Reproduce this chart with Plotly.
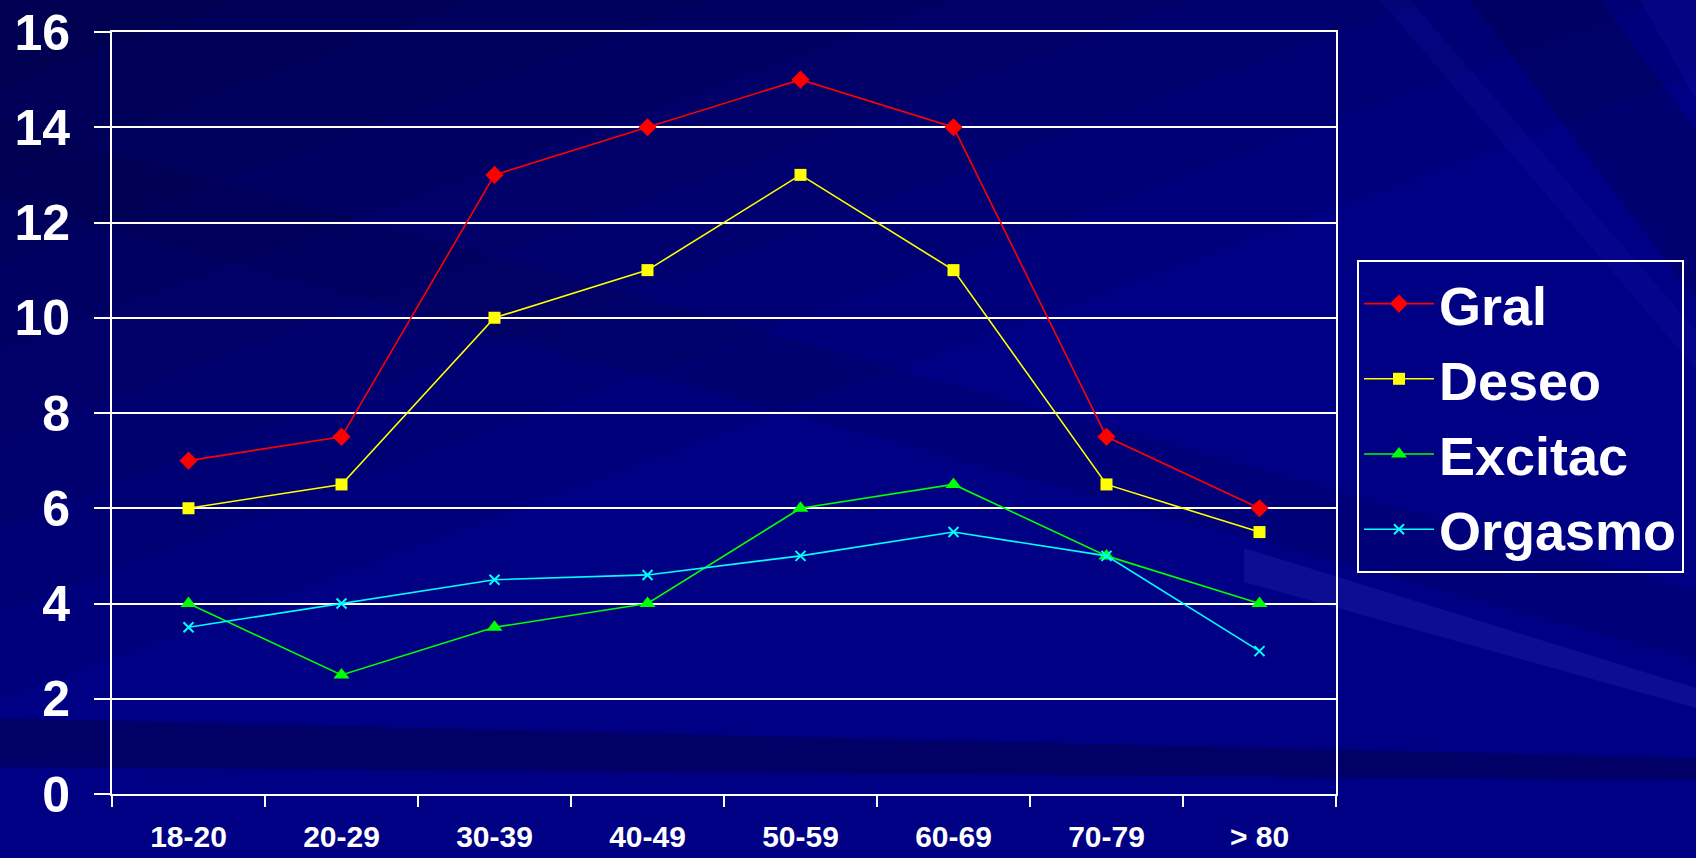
import plotly.graph_objects as go

categories = ["18-20", "20-29", "30-39", "40-49", "50-59", "60-69", "70-79", "> 80"]
gral = [7, 7.5, 13, 14, 15, 14, 7.5, 6]
deseo = [6, 6.5, 10, 11, 13, 11, 6.5, 5.5]
excitac = [4, 2.5, 3.5, 4, 6, 6.5, 5, 4]
orgasmo = [3.5, 4, 4.5, 4.6, 5, 5.5, 5, 3]
y_ticks = [0, 2, 4, 6, 8, 10, 12, 14, 16]

W, H = 1696, 858
L, R, T, B = 112, 360, 32, 64
PW, PH = W - L - R, H - T - B

def P(px, py):
    return (px - L) / PW, (H - B - py) / PH

def poly(pts, color):
    d = "M " + " L ".join(f"{P(x, y)[0]:.4f},{P(x, y)[1]:.4f}" for x, y in pts) + " Z"
    return dict(type="path", xref="paper", yref="paper", path=d,
                fillcolor=color, line=dict(width=0), layer="below")

shapes = []
# soft darkening towards the top-left corner
for i in range(8):
    k = 1 - i / 8
    shapes.append(poly([(0, 0), (1900 * k, 0), (0, 700 * k)], "rgba(0,0,30,0.07)"))
shapes += [
    poly([(0, 120), (0, 200), (1696, 660), (1696, 590)], "rgba(0,0,40,0.12)"),
    poly([(0, 718), (1696, 758), (1696, 780), (0, 767)], "rgba(0,0,50,0.35)"),
    poly([(1244, 548), (1696, 688), (1696, 708), (1244, 582)], "rgba(60,60,190,0.22)"),
    poly([(1470, 0), (1600, 0), (1696, 130), (1696, 300)], "rgba(0,0,40,0.22)"),
    poly([(1380, 0), (1410, 0), (1696, 330), (1696, 370)], "rgba(30,30,190,0.14)"),
    poly([(1640, 0), (1696, 0), (1696, 100)], "rgba(30,30,190,0.14)"),
]

fig = go.Figure()
series = [
    ("Gral", gral, "#ff0000", "diamond", 14),
    ("Deseo", deseo, "#ffff00", "square", 12),
    ("Excitac", excitac, "#00ff00", "triangle-up", 14),
    ("Orgasmo", orgasmo, "#00ffff", "x-thin", 10),
]
for name, vals, col, sym, sz in series:
    fig.add_trace(go.Scatter(
        x=categories, y=vals, name=name, mode="lines+markers",
        legendgroup=name,
        line=dict(color=col, width=1.6),
        marker=dict(symbol=sym, size=sz, color=col,
                    line=dict(color=col, width=2 if sym == "x-thin" else 0)),
    ))

font_bold = dict(family="Liberation Sans, Arial, sans-serif", color="white", weight="bold")

fig.update_layout(
    width=W, height=H,
    margin=dict(l=L, r=R, t=T, b=B),
    paper_bgcolor="#000084",
    plot_bgcolor="rgba(0,0,0,0)",
    shapes=shapes,
    showlegend=True,
    legend=dict(
        x=P(1357, 0)[0], y=P(0, 260)[1], xanchor="left", yanchor="top",
        bgcolor="rgba(0,0,0,0)", bordercolor="white", borderwidth=2,
        font=dict(size=54, **font_bold),
        itemwidth=70, tracegroupgap=2,
    ),
    xaxis=dict(
        type="category", tickson="boundaries", showgrid=False,
        showline=True, linecolor="white", linewidth=2, mirror=True,
        ticks="outside", ticklen=11, tickcolor="white", tickwidth=2,
        tickfont=dict(size=30, **font_bold),
        range=[-0.5, 7.5], automargin=False, ticklabelstandoff=15,
    ),
    yaxis=dict(
        range=[0, 16], tickvals=y_ticks, showgrid=True,
        gridcolor="white", gridwidth=2,
        showline=True, linecolor="white", linewidth=2, mirror=True,
        ticks="outside", ticklen=16, tickcolor="white", tickwidth=2,
        tickfont=dict(size=50, **font_bold),
        zeroline=False, automargin=False, ticklabelstandoff=14,
    ),
)

fig.write_html("out.html", config={"displayModeBar": False},
               post_script="document.body.style.margin='0px';document.body.style.overflow='hidden';")
